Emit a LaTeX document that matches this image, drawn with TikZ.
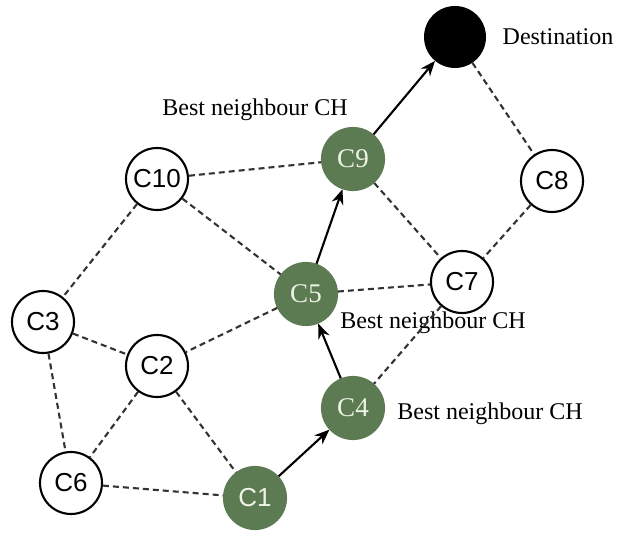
\documentclass[tikz,border=0pt]{standalone}
\usepackage{fontspec}
\setmainfont{Liberation Serif}
\setsansfont{Liberation Sans}
\usetikzlibrary{arrows.meta}
\definecolor{chgreen}{HTML}{5C7B52}
\definecolor{chtext}{HTML}{EEF3E6}
\tikzset{
  ch/.style={circle, draw, line width=2.1pt, minimum size=62pt, inner sep=0pt,
    font=\sffamily\fontsize{26}{26}\selectfont},
  best/.style={ch, fill=chgreen, draw=chgreen, text=chtext,
    font=\rmfamily\fontsize{27}{27}\selectfont},
  link/.style={dashed, dash pattern=on 6pt off 4pt, line width=2.1pt, draw=black!80},
  hop/.style={-{Stealth[length=15pt,width=12pt]}, line width=2.1pt},
  lbl/.style={font=\rmfamily\fontsize{24}{24}\selectfont}
}
\begin{document}
\begin{tikzpicture}[x=1pt, y=-1pt]
    \useasboundingbox (0,0) rectangle (619,534);

    % Destination
    \node[circle, fill=black, minimum size=62pt, inner sep=0pt] (dest) at (455,37) {};
    \node[lbl] (destlbl) at (558,37) {Destination};

    % Cluster heads
    \node[ch] (c10) at (157,179) {C10};
    \node[best] (c9) at (353,159) {C9};
    \node[ch] (c8) at (552,181) {C8};
    \node[best] (c5) at (306,294) {C5};
    \node[ch] (c7) at (462,282) {C7};
    \node[ch] (c3) at (43,322) {C3};
    \node[ch] (c2) at (157,366) {C2};
    \node[best] (c4) at (353,408) {C4};
    \node[ch] (c6) at (71,483) {C6};
    \node[best, font=\sffamily\fontsize{26}{26}\selectfont] (c1) at (255,498) {C1};

    % Labels
    \node[lbl] (best9) at (255,110) {Best neighbour CH};
    \node[lbl] (best5) at (433,323) {Best neighbour CH};
    \node[lbl] (best4) at (490,414) {Best neighbour CH};

    % Neighbour links
    \draw[link] (c10) -- (c9);
    \draw[link] (c10) -- (c3);
    \draw[link] (c10) -- (c5);
    \draw[link] (c9) -- (c7);
    \draw[link] (dest) -- (c8);
    \draw[link] (c8) -- (c7);
    \draw[link] (c5) -- (c7);
    \draw[link] (c5) -- (c2);
    \draw[link] (c7) -- (c4);
    \draw[link] (c3) -- (c2);
    \draw[link] (c3) -- (c6);
    \draw[link] (c2) -- (c6);
    \draw[link] (c2) -- (c1);
    \draw[link] (c6) -- (c1);

    % Route to destination
    \draw[hop] (c1) -- (c4);
    \draw[hop] (c4) -- (c5);
    \draw[hop] (c5) -- (c9);
    \draw[hop] (c9) -- (dest);
\end{tikzpicture}
\end{document}
